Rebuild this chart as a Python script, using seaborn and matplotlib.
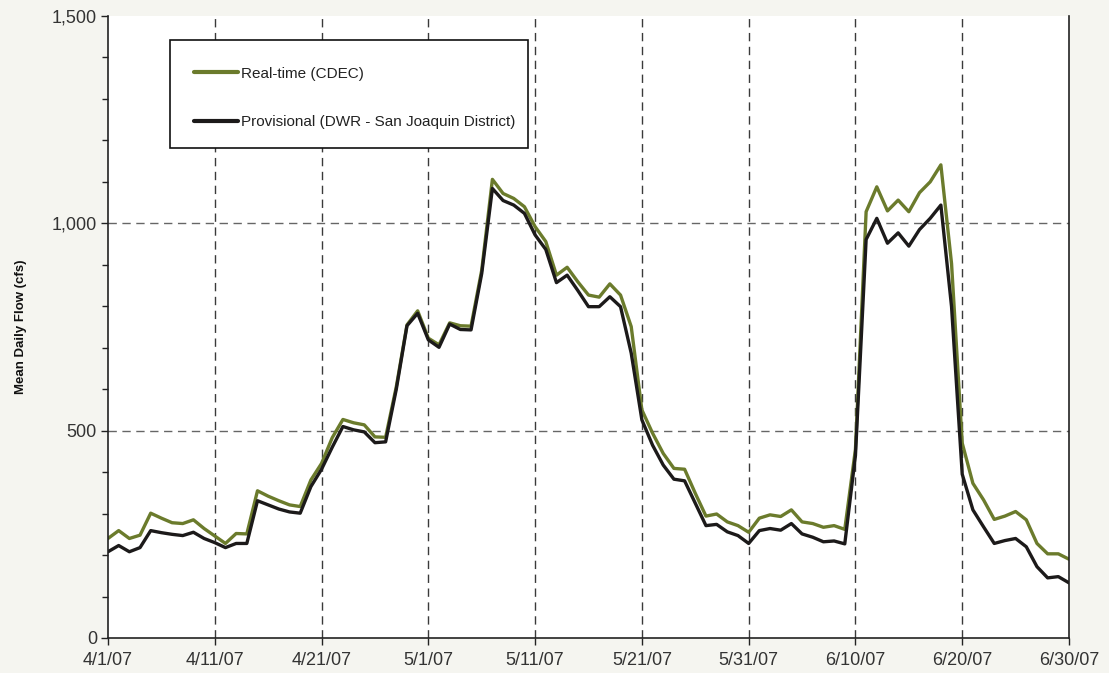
import matplotlib
matplotlib.use("Agg")
import matplotlib.pyplot as plt
import matplotlib.ticker as mticker
from matplotlib.patches import Rectangle
import pandas as pd
import seaborn as sns

# daily values 4/1/07 - 6/30/07
dates = pd.date_range("2007-04-01", "2007-06-30", freq="D")

realtime_cdec = [
    240, 259, 240, 248, 301, 289, 278, 276, 285, 264,
    246, 228, 252, 251, 355, 342, 331, 321, 317, 381,
    421, 483, 527, 519, 514, 485, 484, 606, 755, 789,
    723, 707, 760, 753, 752, 887, 1106, 1072, 1060, 1040,
    992, 956, 875, 894, 859, 827, 822, 854, 827, 751,
    550, 494, 445, 409, 407, 349, 294, 299, 280, 271,
    255, 289, 297, 293, 309, 280, 276, 267, 271, 262,
    455, 1028, 1088, 1030, 1056, 1028, 1074, 1100, 1141, 903,
    470, 373, 333, 286, 294, 305, 285, 228, 203, 203, 190,
]

provisional_dwr = [
    208, 223, 208, 218, 259, 254, 250, 247, 255, 240,
    230, 218, 228, 228, 331, 321, 311, 304, 301, 365,
    407, 460, 510, 502, 497, 471, 473, 600, 753, 783,
    719, 701, 757, 744, 743, 879, 1084, 1055, 1044, 1024,
    972, 937, 857, 875, 838, 799, 799, 823, 799, 687,
    526, 465, 417, 383, 379, 325, 271, 274, 256, 247,
    228, 259, 264, 260, 276, 251, 243, 232, 234, 227,
    440, 961, 1012, 952, 977, 945, 985, 1012, 1044, 799,
    395, 309, 268, 228, 235, 240, 220, 172, 145, 148, 133,
]

series_labels = ["Real-time (CDEC)", "Provisional (DWR - San Joaquin District)"]
series_colors = ["#6b7b2c", "#1c1a1a"]

tick_dates = pd.date_range("2007-04-01", "2007-06-30", freq="10D")

df = pd.DataFrame({"date": dates, "cdec": realtime_cdec, "dwr": provisional_dwr})

sns.set_style("white")
plt.rcParams["font.family"] = ["Liberation Sans", "DejaVu Sans"]

fig = plt.figure(figsize=(11.09, 6.73), dpi=100, facecolor="#f5f5f0")
ax = fig.add_axes([108 / 1109, 1 - 638 / 673, 961 / 1109, 622 / 673])
ax.set_facecolor("white")

sns.lineplot(data=df, x="date", y="cdec", ax=ax, color=series_colors[0],
             linewidth=2.4, label=series_labels[0])
sns.lineplot(data=df, x="date", y="dwr", ax=ax, color=series_colors[1],
             linewidth=2.4, label=series_labels[1])

ax.set_xlim(dates[0], dates[-1])
ax.set_ylim(0, 1500)

ax.set_xticks(tick_dates)
ax.set_xticklabels([f"{d.month}/{d.day}/{d.strftime('%y')}" for d in tick_dates])
ax.set_yticks([0, 500, 1000, 1500])
ax.yaxis.set_minor_locator(mticker.MultipleLocator(100))
ax.yaxis.set_major_formatter(mticker.FuncFormatter(lambda v, p: f"{int(v):,}"))

ax.tick_params(axis="both", which="major", direction="out", length=5, width=1,
               colors="#222222", labelsize=13, labelcolor="#333333", bottom=True, left=True)
ax.tick_params(axis="y", which="minor", direction="out", length=4, width=1,
               colors="#222222", left=True)
ax.tick_params(axis="x", pad=5)
ax.tick_params(axis="y", pad=3)

# dashed grid lines (inside only)
for d in tick_dates[1:-1]:
    ax.axvline(d, color="#3a3a3a", linestyle=(0, (6, 4)), linewidth=1, zorder=0)
for v in [500, 1000]:
    ax.axhline(v, color="#666666", linestyle=(0, (6, 4)), linewidth=1, zorder=0)

ax.set_xlabel("")
ax.set_ylabel("Mean Daily Flow (cfs)", fontsize=9.5, fontweight="bold", color="#111111", labelpad=18)

for side in ["left", "bottom", "right"]:
    ax.spines[side].set_color("#222222")
    ax.spines[side].set_linewidth(1.2)
ax.spines["top"].set_visible(False)

# legend box drawn separately so the padding can match the original
ax.add_patch(Rectangle((0.0645, 0.7878), 0.3725, 0.1736, transform=ax.transAxes,
                       facecolor="white", edgecolor="#111111", linewidth=1.2, zorder=4))
leg = ax.legend(loc="upper left", bbox_to_anchor=(0.0895, 0.9186), frameon=False,
                fontsize=11, handlelength=2.9, handletextpad=0.2, labelspacing=2.25,
                borderpad=0, borderaxespad=0)
leg.set_zorder(5)
for text in leg.get_texts():
    text.set_color("#222222")
for line in leg.get_lines():
    line.set_linewidth(3)

fig.savefig("out.png", dpi=100, facecolor=fig.get_facecolor())
